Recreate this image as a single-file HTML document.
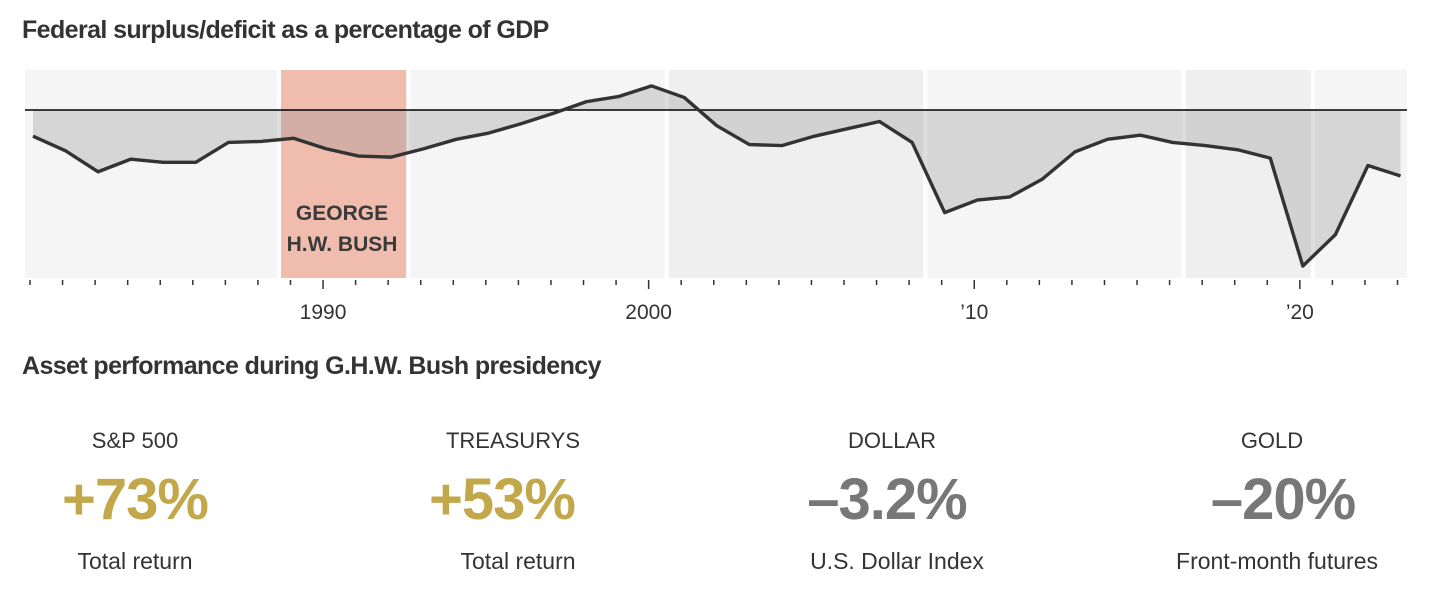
<!DOCTYPE html>
<html><head><meta charset="utf-8"><style>
body{margin:0;background:#fff;width:1438px;height:606px;overflow:hidden;font-family:"Liberation Sans",sans-serif;}
.t{position:absolute;font-weight:bold;color:#333;font-size:25px;letter-spacing:-0.6px}
.col{position:absolute;width:360px;text-align:center;color:#333}
.lab{font-size:22px;top:428px}
.big{font-size:58px;font-weight:bold;top:466px;letter-spacing:-1px}
.sub{font-size:23px;top:548px}
</style></head><body>
<div class="t" style="left:22px;top:16px">Federal surplus/deficit as a percentage of GDP</div>
<svg id="c" width="1438" height="340" style="position:absolute;left:0;top:0"></svg>
<div class="t" style="left:22px;top:352px">Asset performance during G.H.W. Bush presidency</div>
<div class="col lab" style="left:-45px">S&amp;P 500</div>
<div class="col big" style="left:-45px;color:#c2a84a">+73%</div>
<div class="col sub" style="left:-45px">Total return</div>
<div class="col lab" style="left:333px">TREASURYS</div>
<div class="col big" style="left:322px;color:#c2a84a">+53%</div>
<div class="col sub" style="left:338px">Total return</div>
<div class="col lab" style="left:712px">DOLLAR</div>
<div class="col big" style="left:707px;color:#777">–3.2%</div>
<div class="col sub" style="left:717px">U.S. Dollar Index</div>
<div class="col lab" style="left:1092px">GOLD</div>
<div class="col big" style="left:1103px;color:#777">–20%</div>
<div class="col sub" style="left:1097px">Front-month futures</div>
<script>
const years=[1981,1982,1983,1984,1985,1986,1987,1988,1989,1990,1991,1992,1993,1994,1995,1996,1997,1998,1999,2000,2001,2002,2003,2004,2005,2006,2007,2008,2009,2010,2011,2012,2013,2014,2015,2016,2017,2018,2019,2020,2021,2022,2023];
const values=[-2.5,-3.9,-5.9,-4.7,-5.0,-5.0,-3.1,-3.0,-2.7,-3.7,-4.4,-4.5,-3.7,-2.8,-2.2,-1.3,-0.3,0.8,1.3,2.3,1.2,-1.5,-3.3,-3.4,-2.5,-1.8,-1.1,-3.1,-9.8,-8.6,-8.3,-6.6,-4.0,-2.8,-2.4,-3.1,-3.4,-3.8,-4.6,-14.9,-11.9,-5.3,-6.3];
const tickLabels=[[1990,"1990"],[2000,"2000"],[2010,"’10"],[2020,"’20"]];
const bands=[[1981,1989,"#f5f5f5"],[1989,1993,"#efbcae"],[1993,2001,"#f5f5f5"],[2001,2009,"#efefef"],[2009,2017,"#f5f5f5"],[2017,2021,"#efefef"],[2021,2025,"#f5f5f5"]];
const NS="http://www.w3.org/2000/svg",svg=document.getElementById('c');
const x=y=>33+(y-1981)*32.56, yv=v=>110-v*10.47, bx=y=>279+(y-1989)*32.31;
function mk(t,a){const e=document.createElementNS(NS,t);for(const k in a)e.setAttribute(k,a[k]);svg.appendChild(e);return e;}
bands.forEach(b=>{const x0=b[0]<=1981?25:bx(b[0])+2,x1=b[1]>=2023?1407:bx(b[1])-2;
const r=mk('rect',{x:x0,y:70,width:x1-x0,height:208,fill:b[2]});

});
let d='M'+x(years[0])+','+yv(0);years.forEach((yr,i)=>d+=' L'+x(yr)+','+yv(values[i]));d+=' L'+x(years[years.length-1])+','+yv(0)+'Z';
const a=mk('path',{d:d,fill:'#8e8e8e','fill-opacity':0.3});


const z=mk('line',{x1:25,x2:1407,y1:yv(0),y2:yv(0),stroke:'#000','stroke-width':1.5});


const l=mk('polyline',{points:years.map((yr,i)=>x(yr)+','+yv(values[i])).join(' '),fill:'none',stroke:'#333','stroke-width':3.4,'stroke-linejoin':'round'});


years.forEach(yr=>{const maj=yr%10==0;const t=mk('line',{x1:x(yr)-3,x2:x(yr)-3,y1:280,y2:maj?289:285,stroke:'#333','stroke-width':1.5});

});
tickLabels.forEach(tl=>{const t=mk('text',{x:x(tl[0])-3,y:319,'text-anchor':'middle','font-size':21,fill:'#333','font-family':'Liberation Sans'});t.textContent=tl[1];

});
['GEORGE','H.W. BUSH'].forEach((s,i)=>{const t=mk('text',{x:342,y:220+i*31,'text-anchor':'middle','font-size':21,'font-weight':'bold',fill:'#3a3a3a','font-family':'Liberation Sans'});t.textContent=s;

});
</script>
</body></html>
